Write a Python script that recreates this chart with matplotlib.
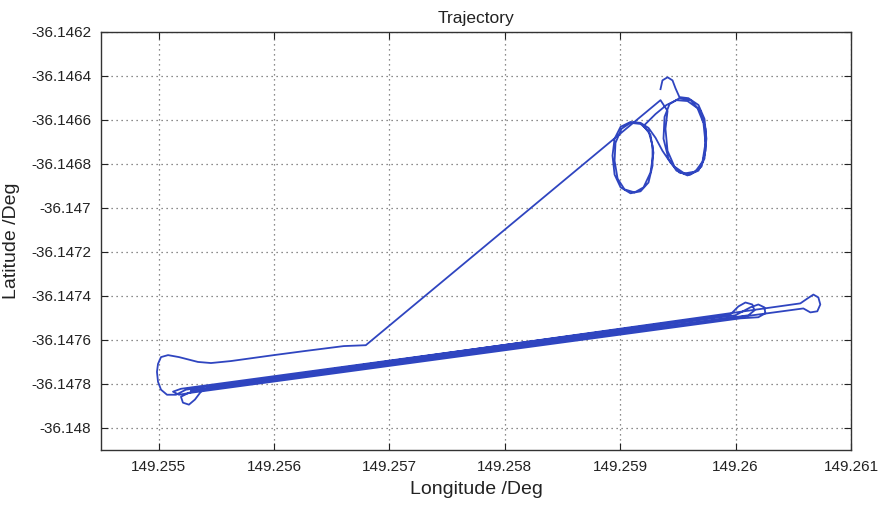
import matplotlib
matplotlib.use("Agg")
import matplotlib.pyplot as plt
from matplotlib.ticker import FuncFormatter

# ---------------- data (lon / lat in degrees) ----------------
# hook + loops near the north-east
loops_lon = [149.259349, 149.259366, 149.259410, 149.259453, 149.259479, 149.259513,
             149.259591, 149.259678, 149.259730, 149.259747, 149.259730, 149.259678,
             149.259583, 149.259487, 149.259418, 149.259375, 149.259384, 149.259427,
             149.259513,
             149.259609, 149.259695, 149.259739, 149.259739, 149.259704, 149.259609,
             149.259513, 149.259436,
             149.259366, 149.259306, 149.259245, 149.259176,
             149.259089, 149.259003, 149.258951, 149.258933, 149.258951, 149.259003,
             149.259089, 149.259176, 149.259245, 149.259280, 149.259280, 149.259245,
             149.259176,
             149.259089, 149.259011, 149.258959, 149.258951, 149.258977, 149.259037,
             149.259124, 149.259202, 149.259262, 149.259288, 149.259262, 149.259202,
             149.259306, 149.259401, 149.259487,
             149.259583, 149.259669, 149.259721, 149.259739, 149.259713, 149.259652,
             149.259557, 149.259470, 149.259410, 149.259392, 149.259410, 149.259349]
loops_lat = [-36.146461, -36.146421, -36.146407, -36.146421, -36.146457, -36.146497,
             -36.146502, -36.146533, -36.146596, -36.146686, -36.146777, -36.146831,
             -36.146853, -36.146831, -36.146777, -36.146686, -36.146587, -36.146529,
             -36.146502,
             -36.146511, -36.146560, -36.146641, -36.146741, -36.146813, -36.146849,
             -36.146840, -36.146795,
             -36.146741, -36.146682, -36.146637, -36.146614,
             -36.146610, -36.146632, -36.146686, -36.146763, -36.146849, -36.146907,
             -36.146934, -36.146925, -36.146885, -36.146808, -36.146718, -36.146650,
             -36.146619,
             -36.146614, -36.146641, -36.146705, -36.146786, -36.146867, -36.146916,
             -36.146930, -36.146907, -36.146840, -36.146750, -36.146668, -36.146628,
             -36.146574, -36.146533, -36.146511,
             -36.146515, -36.146547, -36.146614, -36.146705, -36.146790, -36.146835,
             -36.146844, -36.146813, -36.146741, -36.146641, -36.146560, -36.146511]

# straight return leg + western turn
west_lon = [149.256795, 149.256604, 149.256258, 149.255998, 149.255626, 149.255453,
            149.255340, 149.255176, 149.255081, 149.255020, 149.254994, 149.254985,
            149.254994, 149.255020, 149.255072, 149.255150, 149.255236]
west_lat = [-36.147624, -36.147628, -36.147651, -36.147669, -36.147696, -36.147705,
            -36.147700, -36.147678, -36.147669, -36.147678, -36.147709, -36.147745,
            -36.147790, -36.147826, -36.147849, -36.147849, -36.147826]

# long east-west passes with the turns at both ends
passes_lon = [149.260561, 149.260622, 149.260674, 149.260717, 149.260734, 149.260708,
              149.260648, 149.260587,
              149.255366, 149.255262, 149.255193, 149.255210, 149.255262, 149.255314,
              149.255366,
              149.255453, 149.259998,
              149.260128, 149.260197, 149.260249, 149.260258, 149.260197,
              149.260042, 149.255280, 149.255176, 149.255124, 149.255193,
              149.259955, 149.260024, 149.260085, 149.260145, 149.260163, 149.260111,
              149.259868, 149.255280]
passes_lat = [-36.147434, -36.147412, -36.147394, -36.147407, -36.147439, -36.147470,
              -36.147475, -36.147457,
              -36.147826, -36.147840, -36.147858, -36.147885, -36.147894, -36.147871,
              -36.147835,
              -36.147813, -36.147488,
              -36.147452, -36.147439, -36.147452, -36.147479, -36.147497,
              -36.147502, -36.147840, -36.147849, -36.147835, -36.147822,
              -36.147484, -36.147448, -36.147430, -36.147439, -36.147466, -36.147488,
              -36.147506, -36.147831]

x_ticks = [149.255, 149.256, 149.257, 149.258, 149.259, 149.26, 149.261]
y_ticks = [-36.1462, -36.1464, -36.1466, -36.1468, -36.147, -36.1472, -36.1474,
           -36.1476, -36.1478, -36.148]

lon = loops_lon + west_lon + passes_lon
lat = loops_lat + west_lat + passes_lat

# ---------------- styling ----------------
plt.rcParams["font.family"] = ["Liberation Sans", "DejaVu Sans"]

fig = plt.figure(figsize=(8.8, 5.05), dpi=100)
ax = fig.add_axes([101 / 880, 1 - 450 / 505, 750 / 880, 418.3 / 505])

ax.plot(lon, lat, color="#2f45c0", lw=1.3, solid_joinstyle="round")

ax.set_xlim(149.2545, 149.261)
ax.set_ylim(-36.1481, -36.1462)
ax.set_xticks(x_ticks)
ax.set_yticks(y_ticks)
fmt = FuncFormatter(lambda v, p: "%g" % round(v, 6))
ax.xaxis.set_major_formatter(fmt)
ax.yaxis.set_major_formatter(fmt)

ax.grid(True, color="#666666", linestyle=(0, (1, 3)), lw=0.9)
ax.tick_params(direction="in", length=5, width=0.8, top=True, right=True,
               labelsize=11, colors="#222222", pad=7)
for s in ax.spines.values():
    s.set_linewidth(1.0)
    s.set_color("#333333")

ax.set_title("Trajectory", fontsize=12.5, pad=6, color="#222222")
ax.set_xlabel("Longitude /Deg", fontsize=14, labelpad=5, color="#222222")
ax.set_ylabel("Latitude /Deg", fontsize=14, labelpad=8, color="#222222")

fig.savefig("out.png", dpi=100)
